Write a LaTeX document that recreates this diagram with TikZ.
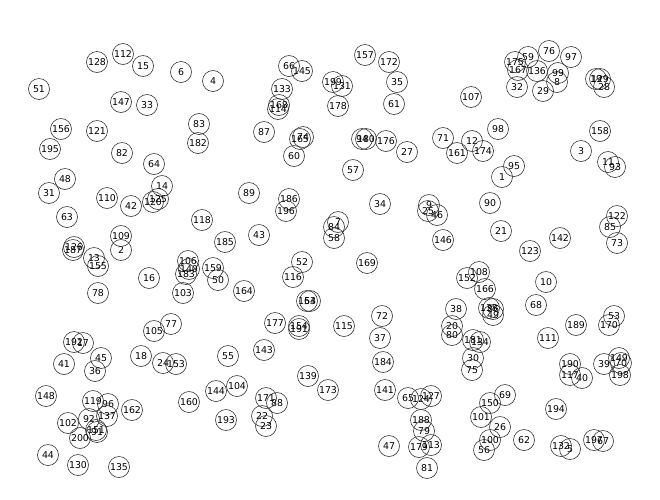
\documentclass[tikz,border=0pt]{standalone}
\usepackage{fontspec}
\setmainfont{DejaVu Sans}
\begin{document}
\begin{tikzpicture}[x=1pt,y=-1pt,
  nd/.style={circle,draw=black!80,line width=0.6pt,minimum size=21pt,inner sep=0pt,
    font=\fontsize{9.4}{10}\selectfont,text=black}]
\useasboundingbox (0,0) rectangle (660,499);
\foreach \n/\x/\y in {
1/502/177,2/121/250,3/581/151,4/213/81,5/570/449,6/181/72,7/338/222,8/557/82,9/429/205,10/546/282,
11/608/162,12/472/141,13/94/258,14/162/186,15/143/66,16/149/278,17/83/343,18/141/356,19/596/79,20/452/326,
21/501/231,22/262/416,23/266/426,24/163/363,25/428/211,26/500/427,27/407/152,28/604/87,29/543/91,30/473/358,
31/49/193,32/517/87,33/147/105,34/380/204,35/397/82,36/95/371,37/380/338,38/456/309,39/604/364,40/582/378,
41/64/364,42/131/206,43/259/235,44/48/455,45/101/358,46/437/215,47/389/446,48/65/179,49/493/315,50/218/280,
51/39/89,52/302/262,53/614/316,54/310/301,55/228/356,56/484/450,57/353/170,58/334/238,59/528/57,60/294/156,
61/394/104,62/524/440,63/67/217,64/154/164,65/408/398,66/289/66,67/603/441,68/536/305,69/505/395,70/621/363,
71/443/138,72/382/316,73/617/243,74/303/137,75/472/370,76/549/51,77/171/324,78/98/293,79/424/431,80/452/335,
81/427/468,82/122/153,83/199/124,84/334/227,85/610/227,86/493/309,87/264/132,88/277/403,89/249/193,90/490/203,
91/97/432,92/89/419,93/615/167,94/362/139,95/514/166,96/108/404,97/571/57,98/498/129,99/558/73,100/490/440,
101/481/417,102/68/423,103/183/293,104/237/386,105/154/331,106/188/261,107/471/97,108/479/272,109/121/236,110/107/198,
111/548/338,112/123/54,113/431/445,114/278/109,115/344/326,116/293/277,117/570/375,118/202/220,119/93/401,120/153/202,
121/97/131,122/617/216,123/530/251,124/421/399,125/158/199,126/74/247,127/431/396,128/97/62,129/600/79,130/78/465,
131/342/86,132/561/446,133/282/89,134/480/342,135/119/467,136/537/71,137/107/416,138/489/308,139/308/376,140/189/269,
141/385/390,142/560/238,143/264/350,144/216/391,145/302/71,146/443/240,147/121/102,148/46/396,149/619/358,150/490/403,
151/96/430,152/467/278,153/176/364,154/299/326,155/98/266,156/61/129,157/365/55,158/600/131,159/213/268,160/189/402,
161/457/153,162/132/410,163/307/301,164/244/291,165/300/139,166/485/289,167/518/70,168/279/105,169/367/263,170/609/325,
171/266/398,172/389/62,173/328/390,174/483/151,175/515/62,176/386/141,177/275/323,178/338/106,179/419/447,180/366/139,
181/473/340,182/198/143,183/186/274,184/383/362,185/225/242,186/289/199,187/73/250,188/421/420,189/576/325,190/570/364,
191/299/329,192/74/342,193/226/420,194/556/409,195/50/149,196/286/211,197/594/440,198/620/375,199/333/82,200/80/438}
  \node[nd] (n\n) at (\x,\y) {\n};
\end{tikzpicture}
\end{document}
